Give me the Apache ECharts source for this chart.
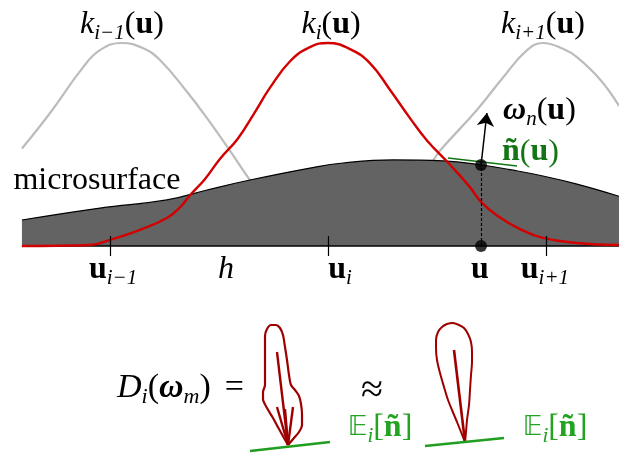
<!DOCTYPE html>
<html><head><meta charset="utf-8">
<script src="https://cdn.jsdelivr.net/npm/echarts@6/dist/echarts.min.js"></script>
<style>html,body{margin:0;padding:0;background:#fff}#c{width:619px;height:456px}</style>
</head><body><div id="c"></div><script>
// ===== Top panel data: x in kernel spacings (u_i = 0), y in kernel height (peak = 1)
const redKernel = [[-1.404,0],[-1.092,0.005],[-1.0,0.03],[-0.862,0.08],[-0.739,0.138],[-0.679,0.19],[-0.633,0.25],[-0.564,0.33],[-0.495,0.43],[-0.413,0.53],[-0.335,0.66],[-0.266,0.78],[-0.174,0.91],[-0.083,0.98],[0.0,1.0],[0.101,0.97],[0.193,0.90],[0.284,0.77],[0.376,0.63],[0.454,0.52],[0.560,0.40],[0.651,0.29],[0.702,0.217],[0.775,0.15],[0.881,0.083],[0.986,0.04],[1.142,0.015],[1.335,0.005]];
const greyKernelLeft = [[-1.404,0.48],[-1.275,0.655],[-1.124,0.88],[-1.046,0.965],[-0.945,1.0],[-0.850,0.975],[-0.771,0.916],[-0.647,0.76],[-0.555,0.63],[-0.450,0.47],[-0.358,0.325],[-0.266,0.2]];
const greyKernelRight = [[0.399,0.30],[0.482,0.42],[0.514,0.47],[0.683,0.67],[0.803,0.83],[0.913,0.965],[0.986,1.0],[1.080,0.97],[1.142,0.93],[1.248,0.82],[1.335,0.69]];
const microsurface = [[-1.404,0.128],[-1.046,0.187],[-0.739,0.227],[-0.555,0.276],[-0.358,0.325],[-0.083,0.384],[0.069,0.409],[0.298,0.424],[0.528,0.419],[0.706,0.399],[0.835,0.376],[0.986,0.345],[1.142,0.305],[1.335,0.245]];
const domain = [-1.404, 1.335];
const tickPositions = [-1.0, 0, 1.0];
const samplePoint = [0.702, 0.399];          // u and surface height at u
const tangentEnds = [[0.550,0.433],[0.867,0.394]];
const normalTip = [0.729,0.655];
const topLabels = [
  {pos:[-0.945,1.09], text:'{i|k}{s|i−1}{n|(}{b|u}{n|)}', color:'#000', align:'center'},
  {pos:[0.014,1.09],  text:'{i|k}{s|i}{n|(}{b|u}{n|)}', color:'#000', align:'center'},
  {pos:[0.986,1.09],  text:'{i|k}{s|i+1}{n|(}{b|u}{n|)}', color:'#000', align:'center'},
  {pos:[0.803,0.665],  text:'{bi|ω}{s|n}{n|(}{b|u}{n|)}', color:'#000', align:'left'},
  {pos:[0.798,0.462],  text:'{b|ñ}{n|(}{b|u}{n|)}', color:'#137513', align:'left'},
  {pos:[-1.060,0.322], text:'{n|microsurface}', color:'#000', align:'center'},
  {pos:[-0.986,-0.118],text:'{b|u}{s|i−1}', color:'#000', align:'center'},
  {pos:[-0.468,-0.118],text:'{i|h}', color:'#000', align:'center'},
  {pos:[0.055,-0.118], text:'{b|u}{s|i}', color:'#000', align:'center'},
  {pos:[0.697,-0.118], text:'{b|u}', color:'#000', align:'center'},
  {pos:[0.995,-0.118], text:'{b|u}{s|i+1}', color:'#000', align:'center'}
];
// ===== Bottom panel data: lobe shapes relative to their tip (units = px, y up)
const lobeTips = [[288,11],[465,14]];
const lobeAOutline = [[0,0],[-4,7],[-9,16],[-15,27],[-21,37],[-25,46],[-25,53],[-23,60],[-23,75],[-23,95],[-23,109],[-21,116],[-17,120],[-12,120],[-8,117],[-5,110],[-3,98],[-1,85],[1,70],[3,60],[7,55],[11,49],[13,41],[14,31],[14,20],[11,13],[6,7],[0,0]];
const lobeARays = [[-11,93],[-11,38],[-3,36],[5,38]];
const lobeAGround = [[-38,-6],[42,3]];
const lobeBOutline = [[0,0],[-4,10],[-8,20],[-13,32],[-17,42],[-21,55],[-25,69],[-28,82],[-29,94],[-29,102],[-27,110],[-23,115],[-18,118],[-12,119],[-6,117],[-1,114],[3,108],[6,100],[7,90],[7,80],[6,67],[5,52],[4,37],[2,22],[1,10],[0,0]];
const lobeBRays = [[-11,92]];
const lobeBGround = [[-40,-4],[39,4]];
const bottomLabels = [
  {pos:[117,68], text:'{Di|D}{Ds|i}{Dn|(}{Dbi|ω}{Ds|m}{Dn|)}{eq|=}', color:'#000', align:'left'},
  {pos:[372,65], text:'{a|≈}', color:'#000', align:'center'},
  {pos:[380,28], text:'{E|𝔼}{s|i}{n|[}{b|ñ}{n|]}', color:'#22a322', align:'center'},
  {pos:[555,28], text:'{E|𝔼}{s|i}{n|[}{b|ñ}{n|]}', color:'#22a322', align:'center'}
];

const serif = "'Liberation Serif','DejaVu Serif',serif";
function rich(color){
  const base = {fontFamily: serif, fontSize: 32, lineHeight: 38, color: color, opacity: 1, textBorderWidth: 0, textShadowBlur: 0};
  const big = Object.assign({}, base, {fontSize: 34, lineHeight: 40});
  return {
    n: Object.assign({}, base),
    a: Object.assign({}, base, {fontSize: 40}),
    i: Object.assign({}, base, {fontStyle:'italic'}),
    b: Object.assign({}, base, {fontWeight:'bold'}),
    bi: Object.assign({}, base, {fontStyle:'italic', fontWeight:'bold'}),
    s: Object.assign({}, base, {fontSize:21, fontStyle:'italic', lineHeight:19, verticalAlign:'bottom'}),
    E: Object.assign({}, base, {fontFamily:"'DejaVu Sans',sans-serif", fontSize:27}),
    Dn: Object.assign({}, big),
    Di: Object.assign({}, big, {fontStyle:'italic'}),
    Dbi: Object.assign({}, big, {fontStyle:'italic', fontWeight:'bold'}),
    Ds: Object.assign({}, big, {fontSize:22, fontStyle:'italic', lineHeight:20, verticalAlign:'bottom'}),
    eq: Object.assign({}, big, {padding:[0,0,0,14]})
  };
}
function labelSeries(items, gi){
  return {
    type:'scatter', xAxisIndex:gi, yAxisIndex:gi, clip:false, symbolSize:1, z:20,
    itemStyle:{color:'#fff', opacity:0}, silent:true,
    data: items.map(it => ({
      value: it.pos,
      label: {show:true, position:'inside', formatter: it.text, align: it.align, verticalAlign:'middle',
              color: it.color, opacity:1, textBorderWidth:0, textBorderColor:'transparent', rich: rich(it.color)}
    }))
  };
}
function shift(arr, tip){ return arr.map(p => [p[0]+tip[0], p[1]+tip[1]]); }
function seg(a,b){ return {coords:[a,b]}; }

const tickHalf = 0.049;
const series = [
  {type:'line', data:greyKernelLeft, showSymbol:false, smooth:0.45, lineStyle:{color:'#bcbcbc', width:2.2}, z:1},
  {type:'line', data:greyKernelRight, showSymbol:false, smooth:0.45, lineStyle:{color:'#bcbcbc', width:2.2}, z:1},
  {type:'line', data:microsurface, showSymbol:false, smooth:0.45, lineStyle:{color:'#000', width:1.2},
    areaStyle:{color:'#636363', opacity:1, origin:0}, z:2},
  {type:'lines', coordinateSystem:'cartesian2d', z:3,
    data:[seg([domain[0],0],[domain[1],0])], lineStyle:{color:'#000', width:1.6, opacity:1}},
  {type:'line', data:redKernel, showSymbol:false, smooth:0.45, lineStyle:{color:'#d20000', width:2.4}, z:4},
  {type:'lines', coordinateSystem:'cartesian2d', z:5,
    data: tickPositions.map(t => seg([t,-tickHalf],[t,tickHalf])), lineStyle:{color:'#000', width:1.2, opacity:1}},
  {type:'lines', coordinateSystem:'cartesian2d', z:5,
    data:[seg([samplePoint[0],0],samplePoint)], lineStyle:{color:'#000', width:1.2, type:[3,2], opacity:1}},
  {type:'lines', coordinateSystem:'cartesian2d', z:6,
    data:[seg(tangentEnds[0],tangentEnds[1])], lineStyle:{color:'#137513', width:1.5, opacity:1}},
  {type:'lines', coordinateSystem:'cartesian2d', z:6, symbol:['none','arrow'], symbolSize:[0,13],
    data:[seg(samplePoint,normalTip)], lineStyle:{color:'#000', width:1.5, opacity:1}},
  {type:'scatter', data:[[samplePoint[0],0], samplePoint], symbolSize:12, itemStyle:{color:'#000'}, z:7, clip:false},
  labelSeries(topLabels, 0),
  // bottom panel
  {type:'line', xAxisIndex:1, yAxisIndex:1, data:shift(lobeAOutline, lobeTips[0]), showSymbol:false, smooth:0.3,
    lineStyle:{color:'#9e0000', width:2.2}, z:3},
  {type:'lines', coordinateSystem:'cartesian2d', xAxisIndex:1, yAxisIndex:1, z:3,
    data: lobeARays.map(r => seg(lobeTips[0], shift([r], lobeTips[0])[0])), lineStyle:{color:'#9e0000', width:2.4, opacity:1}},
  {type:'lines', coordinateSystem:'cartesian2d', xAxisIndex:1, yAxisIndex:1, z:4,
    data:[seg(shift([lobeAGround[0]],lobeTips[0])[0], shift([lobeAGround[1]],lobeTips[0])[0])], lineStyle:{color:'#1f9e1f', width:2.6, opacity:1}},
  {type:'line', xAxisIndex:1, yAxisIndex:1, data:shift(lobeBOutline, lobeTips[1]), showSymbol:false, smooth:0.3,
    lineStyle:{color:'#9e0000', width:2.0}, z:3},
  {type:'lines', coordinateSystem:'cartesian2d', xAxisIndex:1, yAxisIndex:1, z:3,
    data: lobeBRays.map(r => seg(lobeTips[1], shift([r], lobeTips[1])[0])), lineStyle:{color:'#9e0000', width:2.6, opacity:1}},
  {type:'lines', coordinateSystem:'cartesian2d', xAxisIndex:1, yAxisIndex:1, z:4,
    data:[seg(shift([lobeBGround[0]],lobeTips[1])[0], shift([lobeBGround[1]],lobeTips[1])[0])], lineStyle:{color:'#1f9e1f', width:2.6, opacity:1}},
  labelSeries(bottomLabels, 1)
];

const chart = echarts.init(document.getElementById('c'), null, {renderer:'canvas'});
chart.setOption({
  animation:false,
  backgroundColor:'#fff',
  grid:[{left:0, right:0, top:0, height:300}, {left:0, right:0, top:300, height:156}],
  xAxis:[{type:'value', gridIndex:0, min:-328/218, max:291/218, show:false},
         {type:'value', gridIndex:1, min:0, max:619, show:false}],
  yAxis:[{type:'value', gridIndex:0, min:-54/203, max:246/203, show:false},
         {type:'value', gridIndex:1, min:0, max:156, show:false}],
  series: series
});
</script></body></html>
